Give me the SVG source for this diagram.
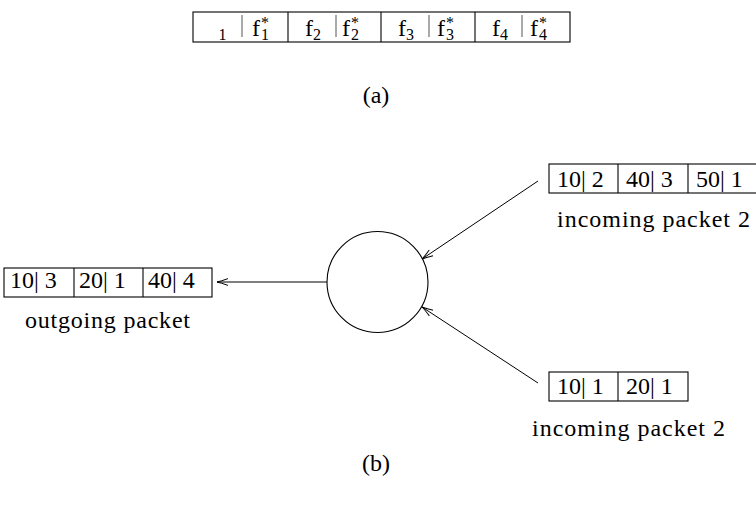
<svg xmlns="http://www.w3.org/2000/svg" width="756" height="505" viewBox="0 0 756 505">
  <style>
    .box { fill: none; stroke: #000; stroke-width: 1.1; }
    .bar { stroke: #555; stroke-width: 1; }
    .t { font-family: "Liberation Serif", "DejaVu Serif", serif; font-size: 24px; fill: #000; }
    .s { font-size: 16px; }
    .edge { fill: none; stroke: #000; stroke-width: 1; }
  </style>
  <defs>
    <marker id="open" markerUnits="userSpaceOnUse" markerWidth="14" markerHeight="10" refX="12" refY="5" orient="auto" overflow="visible">
      <path d="M1,1.6 Q8,4.2 12,5 Q8,5.8 1,8.4" fill="none" stroke="#000" stroke-width="1"/>
    </marker>
  </defs>

  <rect width="756" height="505" fill="#fff"/>

  <!-- (a) record layout: field / flag pairs -->
  <g id="record">
    <rect class="box" x="193" y="12" width="377" height="30"/>
    <line class="box" x1="288" y1="12" x2="288" y2="42"/>
    <line class="box" x1="381" y1="12" x2="381" y2="42"/>
    <line class="box" x1="475" y1="12" x2="475" y2="42"/>
    <line class="bar" x1="242" y1="15" x2="242" y2="37"/>
    <line class="bar" x1="336" y1="15" x2="336" y2="37"/>
    <line class="bar" x1="429" y1="15" x2="429" y2="37"/>
    <line class="bar" x1="522" y1="15" x2="522" y2="37"/>
    <text class="t s" x="222.5" y="39.5" text-anchor="middle">1</text>
    <text class="t" x="252" y="36">f<tspan class="s" x="261" y="39.5">1</tspan><tspan class="s" x="261" y="27.5">*</tspan></text>
    <text class="t" x="305" y="36">f<tspan class="s" x="313" y="39.5">2</tspan></text>
    <text class="t" x="342" y="36">f<tspan class="s" x="351" y="39.5">2</tspan><tspan class="s" x="351" y="27.5">*</tspan></text>
    <text class="t" x="398" y="36">f<tspan class="s" x="406" y="39.5">3</tspan></text>
    <text class="t" x="437" y="36">f<tspan class="s" x="446" y="39.5">3</tspan><tspan class="s" x="446" y="27.5">*</tspan></text>
    <text class="t" x="492" y="36">f<tspan class="s" x="500" y="39.5">4</tspan></text>
    <text class="t" x="530" y="36">f<tspan class="s" x="539" y="39.5">4</tspan><tspan class="s" x="539" y="27.5">*</tspan></text>
  </g>
  <text class="t" x="376" y="103" text-anchor="middle">(a)</text>

  <!-- (b) merge node with packets -->
  <g id="merge">
    <circle class="box" cx="377.5" cy="282" r="50.5"/>
  </g>

  <g id="outgoing">
    <rect class="box" x="4" y="268" width="208" height="29"/>
    <line class="box" x1="74" y1="268" x2="74" y2="297"/>
    <line class="box" x1="143" y1="268" x2="143" y2="297"/>
    <text class="t" x="10" y="288">10| 3</text>
    <text class="t" x="79" y="288">20| 1</text>
    <text class="t" x="148" y="288">40| 4</text>
    <text class="t" x="25" y="328" textLength="165" lengthAdjust="spacing">outgoing packet</text>
  </g>

  <g id="incoming1">
    <rect class="box" x="549" y="164" width="209" height="29"/>
    <line class="box" x1="618" y1="164" x2="618" y2="193"/>
    <line class="box" x1="688" y1="164" x2="688" y2="193"/>
    <text class="t" x="557" y="187">10| 2</text>
    <text class="t" x="626" y="187">40| 3</text>
    <text class="t" x="696" y="187">50| 1</text>
    <text class="t" x="557" y="227" textLength="193" lengthAdjust="spacing">incoming packet 2</text>
  </g>

  <g id="incoming2">
    <rect class="box" x="549" y="372" width="139" height="29"/>
    <line class="box" x1="618" y1="372" x2="618" y2="401"/>
    <text class="t" x="557" y="394">10| 1</text>
    <text class="t" x="626" y="394">20| 1</text>
    <text class="t" x="532" y="436" textLength="193" lengthAdjust="spacing">incoming packet 2</text>
  </g>

  <g id="connectors">
    <line class="edge" x1="327" y1="282" x2="217" y2="282" marker-end="url(#open)"/>
    <line class="edge" x1="538" y1="181" x2="422" y2="259" marker-end="url(#open)"/>
    <line class="edge" x1="538" y1="383" x2="422" y2="307" marker-end="url(#open)"/>
  </g>

  <text class="t" x="376" y="471" text-anchor="middle">(b)</text>
</svg>
